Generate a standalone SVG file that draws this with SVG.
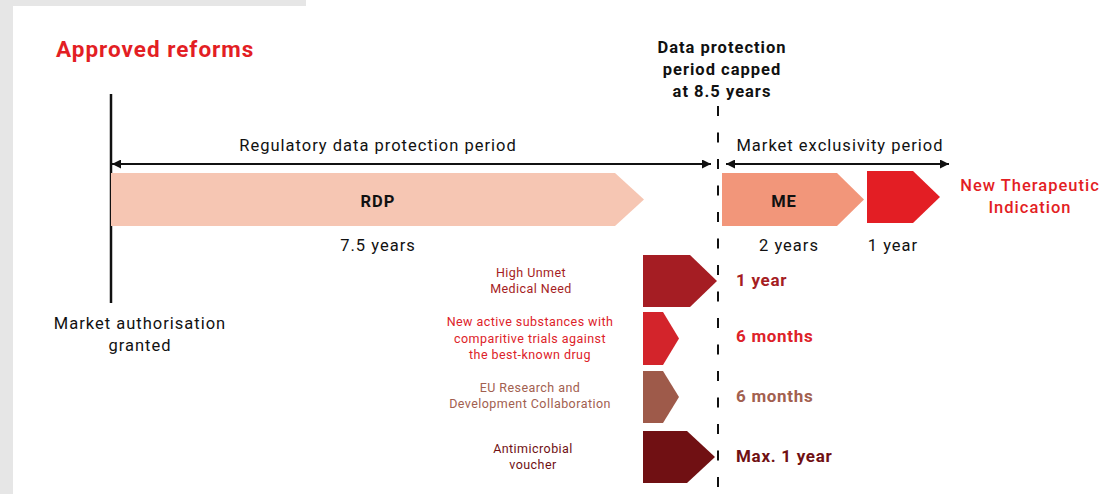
<svg xmlns="http://www.w3.org/2000/svg" width="1102" height="494" viewBox="0 0 1102 494">
  <defs>
    <marker id="head" viewBox="0 0 10 10" refX="10" refY="5" markerWidth="4.5" markerHeight="4.5" orient="auto-start-reverse" markerUnits="strokeWidth">
      <path d="M0,0 L10,5 L0,10 Z" fill="#111"/>
    </marker>
    <style>
      text { font-family: Roboto, "Liberation Sans", sans-serif; }
      .ink { fill: #111; font-size: 16.5px; letter-spacing: 1px; }
      .bold { font-weight: 700; }
      .mid { text-anchor: middle; }
      .lbl { font-size: 12.5px; letter-spacing: 0.45px; text-anchor: middle; }
      .val { font-size: 17px; font-weight: 700; letter-spacing: 0.7px; }
      .span { stroke: #111; stroke-width: 2; fill: none; }
    </style>
  </defs>

  <!-- page background with grey frame strips -->
  <rect x="0" y="0" width="1102" height="494" fill="#ffffff"/>
  <rect x="0" y="0" width="13" height="494" fill="#e6e6e6"/>
  <rect x="0" y="0" width="306" height="6" fill="#e6e6e6"/>

  <text x="56" y="57" font-size="22.5" font-weight="700" letter-spacing="1" fill="#e31e24">Approved reforms</text>

  <!-- timeline axes and spans -->
  <g id="connectors">
    <line x1="111" y1="94" x2="111" y2="303" stroke="#111" stroke-width="2.5"/>
    <line class="span" x1="112" y1="164" x2="711" y2="164" marker-start="url(#head)" marker-end="url(#head)"/>
    <line class="span" x1="726" y1="164" x2="949" y2="164" marker-start="url(#head)" marker-end="url(#head)"/>
    <line x1="718" y1="106" x2="718" y2="487" stroke="#111" stroke-width="2" stroke-dasharray="10 16.5"/>
  </g>

  <g id="cap-note">
    <text class="ink bold mid" x="722" y="53">Data protection</text>
    <text class="ink bold mid" x="722" y="75">period capped</text>
    <text class="ink bold mid" x="722" y="97">at 8.5 years</text>
  </g>

  <g id="market-authorisation">
    <text class="ink mid" x="140" y="329">Market authorisation</text>
    <text class="ink mid" x="140" y="351">granted</text>
  </g>

  <g id="rdp">
    <text class="ink mid" x="378" y="151">Regulatory data protection period</text>
    <polygon points="111,173 615,173 644,199.5 615,226 111,226" fill="#f6c6b3"/>
    <text class="ink bold mid" x="378" y="207">RDP</text>
    <text class="ink mid" x="378" y="251">7.5 years</text>
  </g>

  <g id="me">
    <text class="ink mid" x="840" y="151">Market exclusivity period</text>
    <polygon points="722,173 837,173 864,199.5 837,226 722,226" fill="#f2967a"/>
    <text class="ink bold mid" x="784" y="207">ME</text>
    <text class="ink mid" x="789" y="251">2 years</text>
  </g>

  <g id="new-indication">
    <polygon points="867,171 913,171 940,197 913,223 867,223" fill="#e31e24"/>
    <text class="ink mid" x="893" y="251">1 year</text>
    <text x="1030" y="191" font-size="16.5" font-weight="500" letter-spacing="1" fill="#e31e24" text-anchor="middle">New Therapeutic</text>
    <text x="1030" y="213" font-size="16.5" font-weight="500" letter-spacing="1" fill="#e31e24" text-anchor="middle">Indication</text>
  </g>

  <g id="unmet-need" fill="#a51d23">
    <text class="lbl" x="531" y="277">High Unmet</text>
    <text class="lbl" x="531" y="293">Medical Need</text>
    <polygon points="643,255 690,255 717,281 690,307 643,307"/>
    <text class="val" x="736" y="286">1 year</text>
  </g>

  <g id="comparative-trials" fill="#dd2229">
    <text class="lbl" x="530" y="326">New active substances with</text>
    <text class="lbl" x="530" y="343">comparitive trials against</text>
    <text class="lbl" x="530" y="359">the best-known drug</text>
    <polygon points="643,312 663,312 679,338.5 663,365 643,365" fill="#d3242b"/>
    <text class="val" x="736" y="342">6 months</text>
  </g>

  <g id="eu-collaboration" fill="#a2604f">
    <text class="lbl" x="530" y="392">EU Research and</text>
    <text class="lbl" x="530" y="408">Development Collaboration</text>
    <polygon points="643,371 663,371 679,397 663,423 643,423" fill="#9e5a4a"/>
    <text class="val" x="736" y="402">6 months</text>
  </g>

  <g id="antimicrobial" fill="#701013">
    <text class="lbl" x="533" y="453">Antimicrobial</text>
    <text class="lbl" x="533" y="469">voucher</text>
    <polygon points="643,431 687,431 715,457 687,483 643,483"/>
    <text class="val" x="736" y="462">Max. 1 year</text>
  </g>
</svg>
